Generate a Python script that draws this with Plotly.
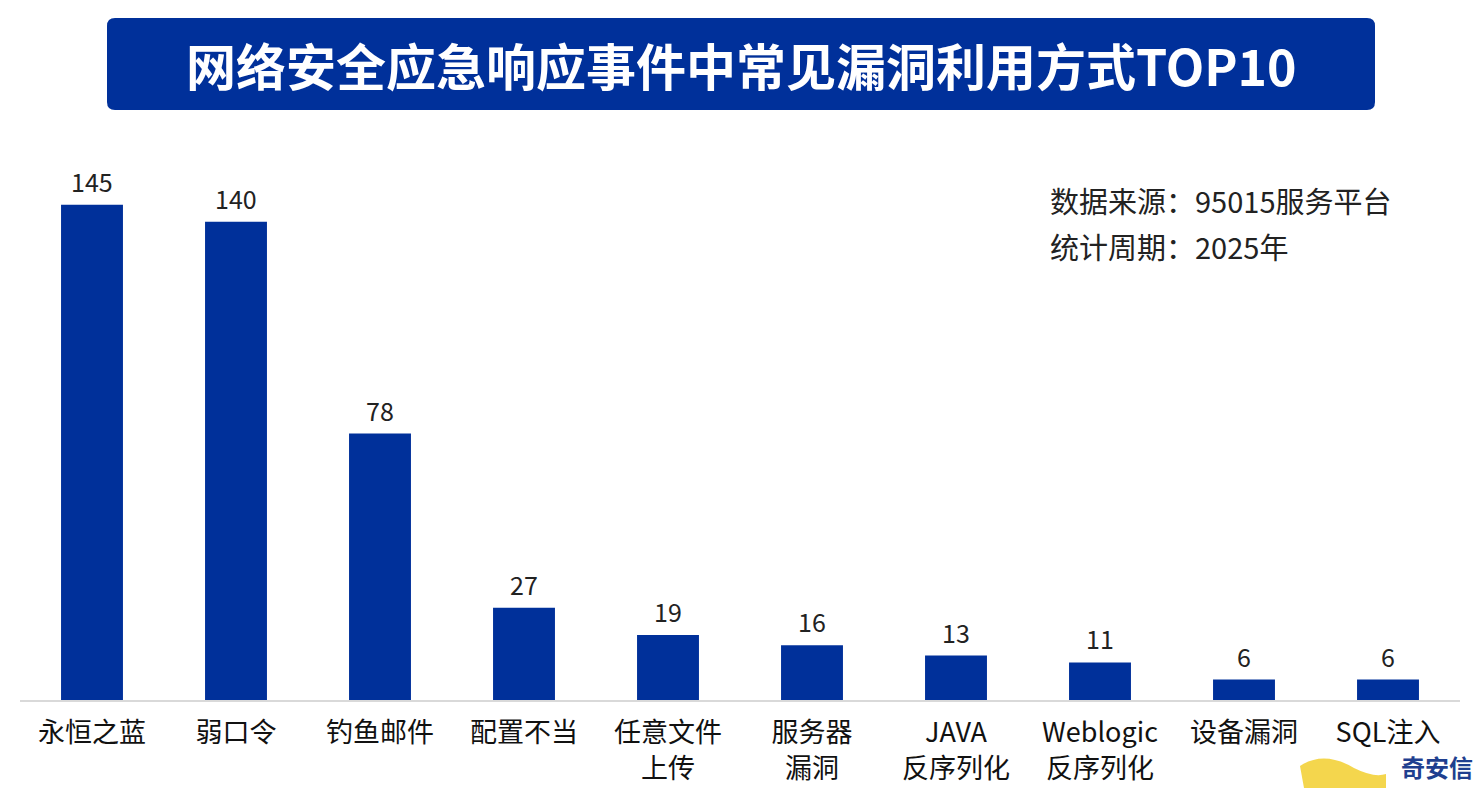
import plotly.graph_objects as go

categories = ["永恒之蓝", "弱口令", "钓鱼邮件", "配置不当", "任意文件<br>上传", "服务器<br>漏洞",
              "JAVA<br>反序列化", "Weblogic<br>反序列化", "设备漏洞", "SQL注入"]
values = [145, 140, 78, 27, 19, 16, 13, 11, 6, 6]
title_text = "网络安全应急响应事件中常见漏洞利用方式TOP10"
note_lines = ["数据来源：95015服务平台", "统计周期：2025年"]
logo_text = "奇安信"

FONT = "Noto Sans CJK SC"
BLUE = "#00309a"
PW, PH, L, T = 1440, 550, 20, 150  # plot area in pixels


def px(x):
    return (x - L) / PW


def py(y):
    return (T + PH - y) / PH


xs = list(range(len(categories)))
fig = go.Figure(go.Bar(
    x=xs, y=values,
    marker=dict(color=BLUE, line=dict(width=0)),
))

for x, v in zip(xs, values):
    fig.add_annotation(x=x, y=v, text=str(v), showarrow=False, yanchor="bottom",
                       yshift=4, font=dict(family=FONT, size=25, color="#222222"))

fig.update_layout(
    width=1482, height=788,
    margin=dict(l=L, r=1482 - L - PW, t=T, b=788 - T - PH, autoexpand=False),
    paper_bgcolor="white", plot_bgcolor="white",
    bargap=0.57, showlegend=False,
    font=dict(family=FONT),
    xaxis=dict(tickmode="array", tickvals=xs, ticktext=categories,
               tickfont=dict(family=FONT, size=27, color="#111111"),
               ticklabelstandoff=8, automargin=False,
               showline=True, linecolor="#d9d9d9", linewidth=2, showgrid=False,
               ticks="", range=[-0.5, len(categories) - 0.5]),
    yaxis=dict(range=[0, 161], visible=False, showgrid=False, zeroline=False),
)

# Title banner with rounded corners
x0, x1, y0, y1, r = 107, 1375, 18, 110, 8
path = (f"M {px(x0 + r)} {py(y0)} L {px(x1 - r)} {py(y0)} Q {px(x1)} {py(y0)} {px(x1)} {py(y0 + r)} "
        f"L {px(x1)} {py(y1 - r)} Q {px(x1)} {py(y1)} {px(x1 - r)} {py(y1)} "
        f"L {px(x0 + r)} {py(y1)} Q {px(x0)} {py(y1)} {px(x0)} {py(y1 - r)} "
        f"L {px(x0)} {py(y0 + r)} Q {px(x0)} {py(y0)} {px(x0 + r)} {py(y0)} Z")
fig.add_shape(type="path", xref="paper", yref="paper", layer="above", path=path,
              fillcolor=BLUE, line=dict(width=0))
fig.add_annotation(xref="paper", yref="paper", x=px(741), y=py(64),
                   text="<b>" + title_text + "</b>", showarrow=False,
                   font=dict(family=FONT, size=50, color="white"),
                   xanchor="center", yanchor="middle")

# Notes
for i, line in enumerate(note_lines):
    fig.add_annotation(xref="paper", yref="paper", x=px(1048),
                       y=py(200 + i * 46), text=line, showarrow=False,
                       font=dict(family=FONT, size=29, color="#222222"),
                       xanchor="left", yanchor="middle")

# Logo at bottom right
fig.add_shape(type="path", xref="paper", yref="paper", layer="above",
              path=(f"M {px(1300)} {py(766)} Q {px(1324)} {py(750)} {px(1354)} {py(768)} "
                    f"Q {px(1374)} {py(778)} {px(1386)} {py(774)} L {px(1386)} {py(788)} "
                    f"L {px(1304)} {py(788)} Z"),
              fillcolor="#f3d23a", line=dict(width=0), opacity=0.9)
fig.add_annotation(xref="paper", yref="paper", x=px(1474), y=py(766),
                   text="<b>" + logo_text + "</b>", showarrow=False,
                   font=dict(family=FONT, size=24, color="#1f3f8f"),
                   xanchor="right", yanchor="middle", borderpad=0)

fig.write_html("out.html")
